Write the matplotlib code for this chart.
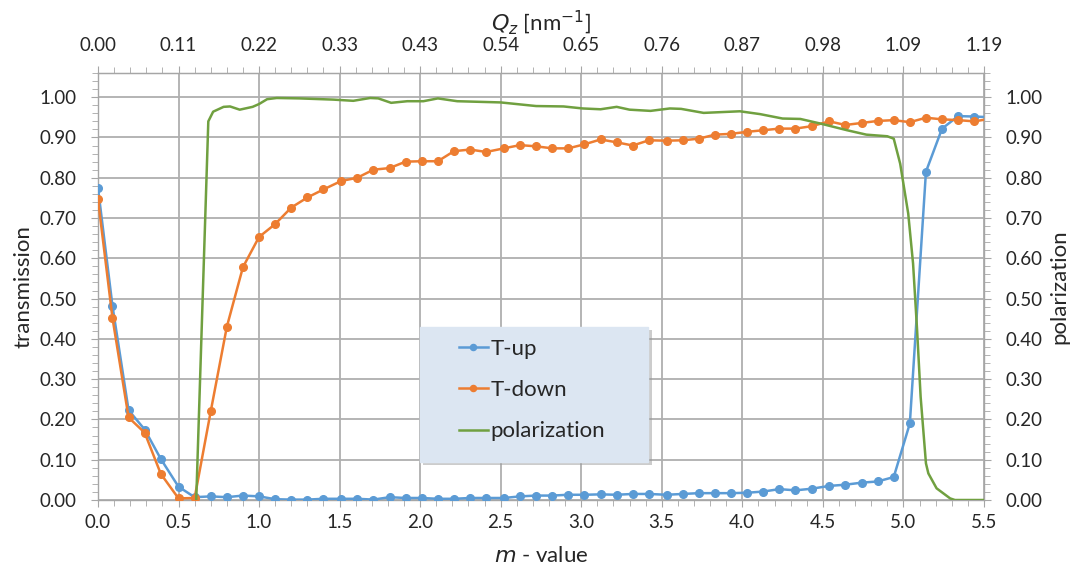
import matplotlib.pyplot as plt
import matplotlib.patches as mpatches
from matplotlib.ticker import MultipleLocator, FormatStrFormatter
import numpy as np

plt.rcParams['font.family'] = ['Lato', 'DejaVu Sans']

## Data
m_value = [0.00, 0.09, 0.19, 0.29, 0.39, 0.50, 0.60, 0.70, 0.80, 0.90,
           1.00, 1.10, 1.20, 1.30, 1.40, 1.51, 1.61, 1.71, 1.81, 1.91,
           2.01, 2.11, 2.21, 2.31, 2.41, 2.52, 2.62, 2.72, 2.82, 2.92,
           3.02, 3.12, 3.22, 3.32, 3.42, 3.53, 3.63, 3.73, 3.83, 3.93,
           4.03, 4.13, 4.23, 4.33, 4.43, 4.54, 4.64, 4.74, 4.84, 4.94,
           5.04, 5.14, 5.24, 5.34, 5.44, 5.55]

t_up = [0.775, 0.482, 0.223, 0.175, 0.102, 0.033, 0.007, 0.009, 0.007, 0.011,
        0.009, 0.002, 0.001, 0.001, 0.003, 0.003, 0.003, 0.001, 0.007, 0.005,
        0.005, 0.003, 0.003, 0.005, 0.005, 0.005, 0.009, 0.011, 0.011, 0.013,
        0.013, 0.014, 0.013, 0.015, 0.015, 0.013, 0.015, 0.017, 0.017, 0.017,
        0.018, 0.021, 0.027, 0.024, 0.028, 0.035, 0.038, 0.043, 0.046, 0.057,
        0.190, 0.815, 0.922, 0.953, 0.952, 0.950]

t_down = [0.747, 0.452, 0.205, 0.167, 0.065, 0.004, 0.005, 0.220, 0.430, 0.578,
          0.653, 0.685, 0.726, 0.751, 0.771, 0.792, 0.800, 0.820, 0.824, 0.840,
          0.841, 0.841, 0.866, 0.870, 0.864, 0.873, 0.881, 0.878, 0.873, 0.873,
          0.883, 0.895, 0.888, 0.880, 0.893, 0.892, 0.893, 0.897, 0.907, 0.909,
          0.914, 0.918, 0.922, 0.922, 0.928, 0.940, 0.931, 0.936, 0.941, 0.943,
          0.938, 0.949, 0.945, 0.943, 0.940, 0.947]

m_pol = [0.61, 0.685, 0.715, 0.78, 0.82, 0.88, 0.96, 1.00, 1.05, 1.11,
         1.25, 1.46, 1.585, 1.69, 1.74, 1.82, 1.92, 2.02, 2.11, 2.23,
         2.50, 2.72, 2.89, 3.01, 3.12, 3.22, 3.30, 3.43, 3.55, 3.62,
         3.76, 3.985, 4.11, 4.25, 4.36, 4.48, 4.65, 4.77, 4.90, 4.94,
         4.98, 5.03, 5.06, 5.085, 5.107, 5.14, 5.155, 5.206, 5.29, 5.32, 5.50]
polarization = [0.0, 0.940, 0.964, 0.976, 0.977, 0.969, 0.976, 0.983, 0.995, 0.998,
                0.997, 0.994, 0.991, 0.998, 0.997, 0.986, 0.990, 0.990, 0.997, 0.990,
                0.987, 0.978, 0.977, 0.972, 0.970, 0.976, 0.969, 0.966, 0.972, 0.971,
                0.961, 0.965, 0.958, 0.947, 0.946, 0.935, 0.918, 0.907, 0.903, 0.897,
                0.835, 0.711, 0.587, 0.422, 0.256, 0.091, 0.066, 0.029, 0.004, 0.0, 0.0]

m_ticks = [0.0, 0.5, 1.0, 1.5, 2.0, 2.5, 3.0, 3.5, 4.0, 4.5, 5.0, 5.5]
qz_labels = ['0.00', '0.11', '0.22', '0.33', '0.43', '0.54', '0.65', '0.76',
             '0.87', '0.98', '1.09', '1.19']

blue = '#5B9BD5'
orange = '#ED7D31'
green = '#70A040'
axis_grey = '#A6A6A6'
grid_grey = '#AFAFAF'
txt = '#262626'
tick_fs = 13.5
label_fs = 16

fig = plt.figure(figsize=(10.73, 5.70), dpi=100)
ax = fig.add_axes([0.0913, 0.1228, 0.8257, 0.7491])

ax.plot(m_value, t_up, color=blue, lw=1.8, marker='o', ms=5.5, label='T-up', zorder=3)
ax.plot(m_value, t_down, color=orange, lw=1.8, marker='o', ms=5.5, label='T-down', zorder=3)

ax.set_xlim(0, 5.5)
ax.set_ylim(0, 1.06)
ax.set_xticks(m_ticks)
ax.xaxis.set_major_formatter(FormatStrFormatter('%.1f'))
ax.xaxis.set_minor_locator(MultipleLocator(0.1))
ax.set_yticks(np.arange(0, 1.01, 0.1))
ax.yaxis.set_major_formatter(FormatStrFormatter('%.2f'))
ax.yaxis.set_minor_locator(MultipleLocator(0.02))
ax.grid(True, which='major', color=grid_grey, lw=1.3)
ax.set_axisbelow(True)

for sp in ax.spines.values():
    sp.set_color(axis_grey)
    sp.set_linewidth(1.0)

ax.tick_params(which='both', direction='out', color=axis_grey, labelsize=tick_fs, labelcolor=txt)
ax.tick_params(which='major', length=5)
ax.tick_params(which='minor', length=4)
ax.tick_params(axis='x', pad=5)
ax.tick_params(axis='y', pad=10.5)
ax.set_ylabel('transmission', fontsize=label_fs, color=txt, labelpad=4)
ax.set_xlabel('$m$ - value', fontsize=label_fs, color=txt, labelpad=11)

## Top axis: Qz
sec = ax.secondary_xaxis('top')
sec.set_xticks(m_ticks, qz_labels)
sec.xaxis.set_minor_locator(MultipleLocator(0.1))
sec.tick_params(which='both', direction='out', color=axis_grey, labelsize=tick_fs, labelcolor=txt, pad=9)
sec.tick_params(which='major', length=5)
sec.tick_params(which='minor', length=4)
sec.spines['top'].set_color(axis_grey)
sec.set_xlabel('$Q_z$ [nm$^{-1}$]', fontsize=label_fs, color=txt, labelpad=4)

## Right axis: polarization
ax2 = ax.twinx()
ax2.plot(m_pol, polarization, color=green, lw=1.8, label='polarization', zorder=3)
ax2.set_ylim(0, 1.06)
ax2.set_yticks(np.arange(0, 1.01, 0.1))
ax2.yaxis.set_major_formatter(FormatStrFormatter('%.2f'))
ax2.yaxis.set_minor_locator(MultipleLocator(0.02))
ax2.tick_params(which='both', direction='out', color=axis_grey, labelsize=tick_fs, labelcolor=txt, pad=10.5)
ax2.tick_params(which='major', length=5)
ax2.tick_params(which='minor', length=4)
for sp in ax2.spines.values():
    sp.set_visible(False)
ax2.set_ylabel('polarization', fontsize=label_fs, color=txt, labelpad=5)

## Legend box with shadow
shadow = mpatches.Rectangle((0.367, 0.081), 0.258, 0.316, transform=ax2.transAxes,
                            facecolor='#9a9a9a', alpha=0.5, edgecolor='none', zorder=5)
box = mpatches.Rectangle((0.363, 0.089), 0.258, 0.316, transform=ax2.transAxes,
                         facecolor='#DCE6F2', edgecolor='#DCE6F2', zorder=6)
ax2.add_patch(shadow)
ax2.add_patch(box)
h1, l1 = ax.get_legend_handles_labels()
h2, l2 = ax2.get_legend_handles_labels()
leg = ax2.legend(h1 + h2, l1 + l2, loc='center', bbox_to_anchor=(0.490, 0.257),
                 frameon=False, fontsize=16, handlelength=1.3, handletextpad=0.13,
                 labelspacing=0.95, markerscale=0.8)
leg.set_zorder(7)
for t in leg.get_texts():
    t.set_color(txt)

fig.savefig('out.png', dpi=100)
